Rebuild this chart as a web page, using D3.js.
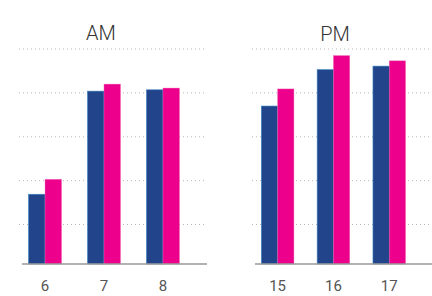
<!DOCTYPE html>
<html><head><meta charset="utf-8">
<script src="https://cdn.jsdelivr.net/npm/d3@7"></script>
<style>body{margin:0;background:#fff}svg{display:block}</style>
</head><body>
<svg id="c" width="432" height="296"></svg>
<script>
const amCategories = ["6", "7", "8"];
const amBlue = [1.69, 4.04, 4.07];
const amPink = [2.03, 4.20, 4.11];
const pmCategories = ["15", "16", "17"];
const pmBlue = [3.70, 4.53, 4.61];
const pmPink = [4.09, 4.85, 4.73];
const gridValues = [1, 2, 3, 4, 5];
const yMin = 0.1, yMax = 5;
const titles = ["AM", "PM"];

const svg = d3.select("#c");
const y = d3.scaleLinear().domain([yMin, yMax]).range([264, 49]);

const panels = [
  {title: titles[0], cats: amCategories, blue: amBlue, pink: amPink,
   band: [12, 196], pi: 0.44, po: 0.28, grid: [19, 205], axis: [22, 207], tx: 101, ty: 39.5},
  {title: titles[1], cats: pmCategories, blue: pmBlue, pink: pmPink,
   band: [244.6, 422.3], pi: 0.416, po: 0.3, grid: [252, 432], axis: [255, 432], tx: 335, ty: 41}
];

panels.forEach(p => {
  const g = svg.append("g");
  g.selectAll("line.grid").data(gridValues).join("line")
    .attr("x1", p.grid[0]).attr("x2", p.grid[1])
    .attr("y1", d => y(d)).attr("y2", d => y(d))
    .attr("stroke", "#b8b8b8").attr("stroke-width", 1)
    .attr("stroke-dasharray", "1,3");
  const x = d3.scaleBand().domain(p.cats).range(p.band).paddingInner(p.pi).paddingOuter(p.po);
  const xs = d3.scaleBand().domain(["blue", "pink"]).range([0, x.bandwidth()]);
  const rows = p.cats.map((c, i) => ({c, blue: p.blue[i], pink: p.pink[i]}));
  const grp = g.selectAll("g.cat").data(rows).join("g").attr("transform", d => `translate(${x(d.c)},0)`);
  grp.append("rect").attr("x", xs("blue")).attr("width", xs.bandwidth())
    .attr("y", d => y(d.blue)).attr("height", d => y(yMin) - y(d.blue))
    .attr("fill", "#21448a").attr("stroke", "#3d86c4").attr("stroke-width", 0.6);
  grp.append("rect").attr("x", xs("pink")).attr("width", xs.bandwidth())
    .attr("y", d => y(d.pink)).attr("height", d => y(yMin) - y(d.pink))
    .attr("fill", "#ec008c").attr("stroke", "#f06ab4").attr("stroke-width", 0.4);
  g.append("line").attr("x1", p.axis[0]).attr("x2", p.axis[1])
    .attr("y1", y(yMin)).attr("y2", y(yMin)).attr("stroke", "#999").attr("stroke-width", 1.5);
  g.selectAll("text.tick").data(p.cats).join("text")
    .attr("x", d => x(d) + x.bandwidth() / 2).attr("y", 291)
    .attr("text-anchor", "middle").attr("font-family", "Roboto, sans-serif")
    .attr("font-size", 15).attr("fill", "#555").text(d => d);
  g.append("text").attr("x", p.tx).attr("y", p.ty).attr("text-anchor", "middle")
    .attr("font-family", "Roboto, sans-serif").attr("font-weight", 300)
    .attr("font-size", 20).attr("fill", "#333").text(p.title);
});
</script>
</body></html>
